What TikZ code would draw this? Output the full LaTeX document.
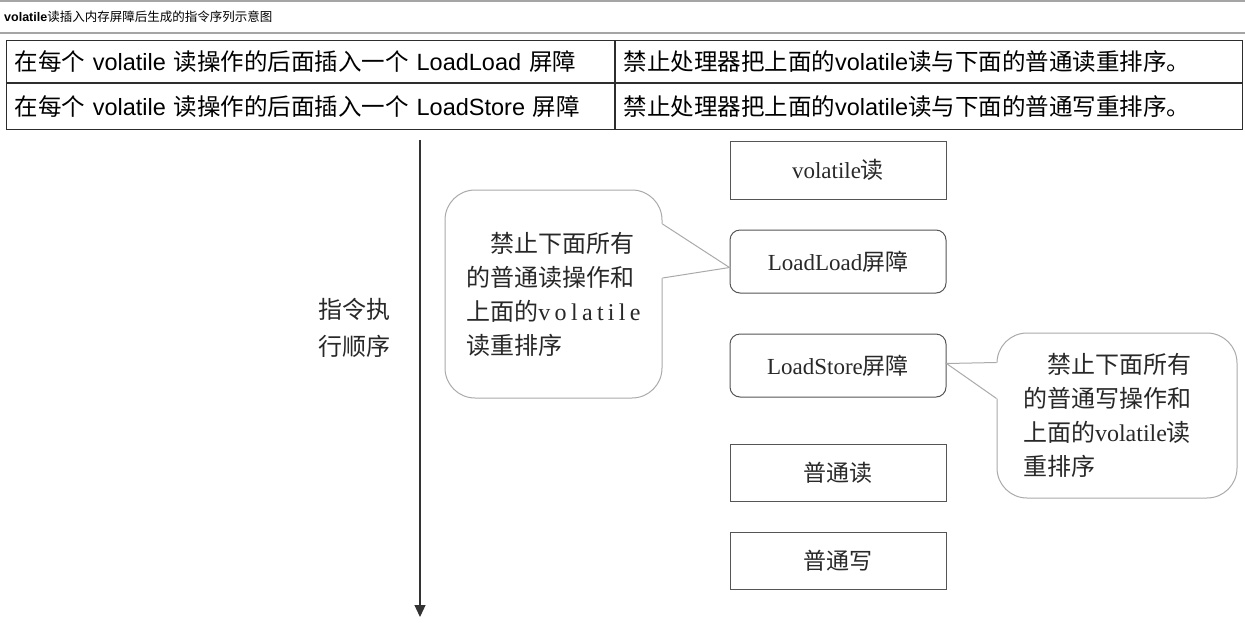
\documentclass[tikz,border=0pt]{standalone}
\usepackage{fontspec}
\setmainfont{Noto Sans CJK SC}
\newfontfamily\ensans{Liberation Sans}
\newfontfamily\enserif{Liberation Serif}
\newfontfamily\enwide[LetterSpace=18]{Liberation Serif}
\usetikzlibrary{arrows.meta, positioning, calc}
\definecolor{colBox}{RGB}{85,85,85}
\definecolor{colNote}{RGB}{170,170,170}
\definecolor{colText}{RGB}{40,40,40}
\definecolor{colRule}{RGB}{165,165,165}
\definecolor{colTable}{RGB}{45,45,45}
\tikzset{
    cell/.style={rectangle, draw=colTable, line width=1pt, text width=#1,
        align=left, inner xsep=8pt, inner ysep=0pt, font=\fontsize{23.5}{28}\selectfont},
    opbox/.style={rectangle, draw=colBox, line width=1pt, minimum width=216pt,
        minimum height=58pt, text=colText, font=\fontsize{23}{27}\selectfont},
    barbox/.style={opbox, rounded corners=10pt, minimum height=63pt},
    notebox/.style={rectangle, draw=colNote, line width=1pt, fill=white,
        rounded corners=30pt, align=left, text=colText, font=\fontsize{24}{34}\selectfont},
    notelink/.style={draw=colNote, line width=1pt},
    orderarrow/.style={-{Triangle[length=12pt, width=11pt]}, line width=1.2pt, draw=black!80}
}

\begin{document}
\begin{tikzpicture}[x=1pt, y=-1pt]
    \useasboundingbox (0,0) rectangle (1245,622);

    % page heading
    \draw[colRule, line width=1.5pt] (0,1) -- (1245,1);
    \draw[colRule, line width=1.5pt] (0,33) -- (1245,33);
    \node[anchor=west, inner sep=0pt, font=\fontsize{12.5}{15}\selectfont] (title) at (4,17)
        {{\ensans\bfseries volatile}读插入内存屏障后生成的指令序列示意图};

    % table
    \node[cell=592pt, minimum height=42pt, anchor=north west] (r1c1) at (6,40)
        {在每个 {\ensans volatile} 读操作的后面插入一个 {\ensans LoadLoad} 屏障};
    \node[cell=611pt, minimum height=42pt, right=0pt of r1c1] (r1c2)
        {禁止处理器把上面的{\ensans volatile}读与下面的普通读重排序。};
    \node[cell=592pt, minimum height=46pt, below=0pt of r1c1] (r2c1)
        {在每个 {\ensans volatile} 读操作的后面插入一个 {\ensans LoadStore} 屏障};
    \node[cell=611pt, minimum height=46pt, right=0pt of r2c1] (r2c2)
        {禁止处理器把上面的{\ensans volatile}读与下面的普通写重排序。};

    % execution order
    \coordinate (otop) at (420,140);
    \coordinate (obot) at (420,617);
    \draw[orderarrow] (otop) -- (obot);
    \node[align=left, text=colText, font=\fontsize{24}{37}\selectfont] (order) at (354,328)
        {指令执\\行顺序};

    % instruction sequence
    \node[opbox] (vread) at (838,170) {{\enserif volatile}读};
    \node[barbox, below=30pt of vread] (llbar) {{\enserif LoadLoad}屏障};
    \node[barbox, below=40pt of llbar] (lsbar) {{\enserif LoadStore}屏障};
    \node[opbox, minimum height=57pt, below=46pt of lsbar] (nread) {普通读};
    \node[opbox, minimum height=57pt, below=30pt of nread] (nwrite) {普通写};

    % callouts
    \node[notebox, minimum width=217pt, minimum height=208pt] (note1) at (553.5,294)
        {\hspace*{1em}禁止下面所有\\的普通读操作和\\上面的{\enwide volatile}\\读重排序};
    \coordinate (n1a) at ($(note1.east)+(0,-70)$);
    \coordinate (n1b) at ($(note1.east)+(0,-16)$);
    \coordinate (n1tip) at ($(llbar.west)+(0,6)$);
    \fill[white] ($(n1a)+(-3,0)$) -- (n1a) -- (n1tip) -- (n1b) -- ($(n1b)+(-3,0)$) -- cycle;
    \draw[notelink] (n1a) -- (n1tip) -- (n1b);

    \node[notebox, text width=188pt, minimum width=240pt, minimum height=165pt] (note2) at (1117,415.5)
        {\hspace*{1em}禁止下面所有\\的普通写操作和\\上面的{\enserif volatile}读\\重排序};
    \coordinate (n2a) at ($(note2.west)+(0,-53)$);
    \coordinate (n2b) at ($(note2.west)+(0,-17)$);
    \coordinate (n2tip) at ($(lsbar.east)+(0,-2)$);
    \fill[white] ($(n2a)+(3,0)$) -- (n2a) -- (n2tip) -- (n2b) -- ($(n2b)+(3,0)$) -- cycle;
    \draw[notelink] (n2a) -- (n2tip) -- (n2b);

\end{tikzpicture}
\end{document}
